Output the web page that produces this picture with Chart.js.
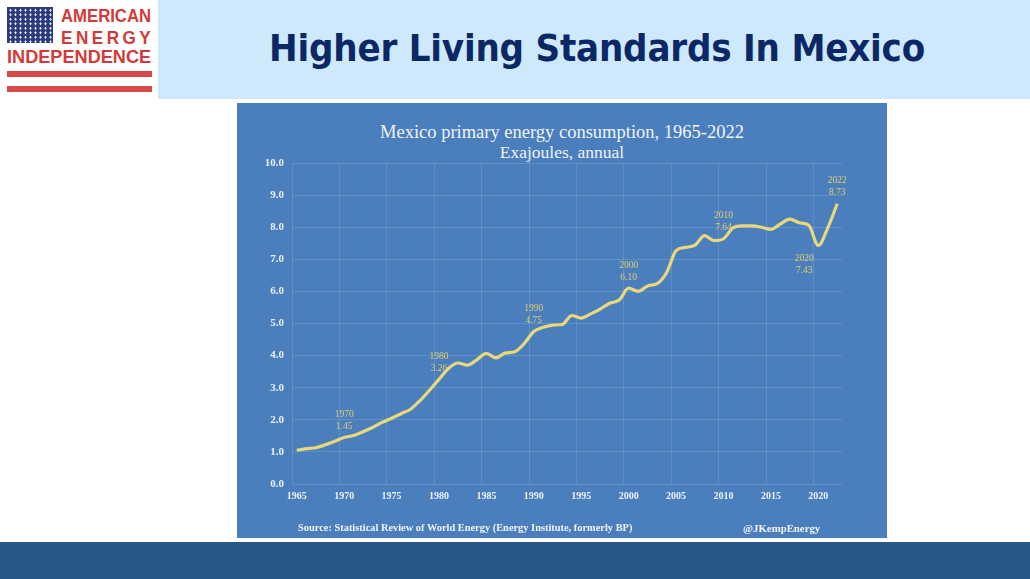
<!DOCTYPE html>
<html>
<head>
<meta charset="utf-8">
<title>Higher Living Standards In Mexico</title>
<script src="https://cdn.jsdelivr.net/npm/chart.js@4.4.0/dist/chart.umd.min.js"></script>
<style>
  html, body { margin: 0; padding: 0; background: #ffffff; }
  body { width: 1030px; height: 579px; position: relative; overflow: hidden; font-family: "DejaVu Sans", sans-serif; }
  #banner { position: absolute; left: 158px; top: 0; width: 872px; height: 99px; background: #cde9fb; }
  #page-title { position: absolute; left: 158px; top: 29px; width: 878px; text-align: center; line-height: 1;
    font-family: "DejaVu Sans Condensed", "DejaVu Sans", sans-serif; font-weight: bold; font-size: 38px; color: #0b2766; letter-spacing: -0.2px; }
  #logo { position: absolute; left: 7px; top: 7px; width: 146px; height: 88px; }
  #flag { position: absolute; left: 0; top: 0; width: 46px; height: 36px; background: #2c3b7c;
    background-image: radial-gradient(circle, #e8ecf6 0.9px, transparent 1.3px); background-size: 5px 4.5px; background-position: 1px 1px; }
  .logo-txt { position: absolute; color: #d23a3a; font-family: "Liberation Sans", Arial, sans-serif; font-weight: bold;
    white-space: nowrap; line-height: 1; font-size: 19px; transform-origin: left top; }
  .stripe { position: absolute; left: 0; width: 145px; height: 6px; background: #d8494a; }
  #panel { position: absolute; left: 237px; top: 103px; width: 650px; height: 435px; background: #4a7ebd; }
  #chart-wrap { position: absolute; left: 0; top: 0; width: 650px; height: 435px; }
  .ptxt { position: absolute; color: #f1f3f7; font-family: "Liberation Serif", "DejaVu Serif", serif; white-space: nowrap; line-height: 1; }
  #footer-bar { position: absolute; left: 0; top: 542px; width: 1030px; height: 37px; background: #295786; }
</style>
</head>
<body>
<div id="banner"></div>
<div id="page-title">Higher Living Standards In Mexico</div>

<div id="logo">
  <div id="flag"></div>
  <div class="logo-txt" style="left:54px; top:-1px; transform: scaleX(0.88);">AMERICAN</div>
  <div class="logo-txt" style="left:54px; top:21px; letter-spacing:3.9px; transform: scaleX(0.9);">ENERGY</div>
  <div class="logo-txt" style="left:0px; top:40px; transform: scaleX(0.955);">INDEPENDENCE</div>
  <div class="stripe" style="top:64px;"></div>
  <div class="stripe" style="top:79px;"></div>
</div>

<div id="panel">
  <div class="ptxt" style="left:0; width:650px; text-align:center; top:20px; font-size:18.5px;">Mexico primary energy consumption, 1965-2022</div>
  <div class="ptxt" style="left:0; width:650px; text-align:center; top:41px; font-size:17.5px;">Exajoules, annual</div>
  <div id="chart-wrap"><canvas id="energy-chart"></canvas></div>
  <div class="ptxt" style="left:61px; top:420px; font-size:10.4px; font-weight:bold;">Source: Statistical Review of World Energy (Energy Institute, formerly BP)</div>
  <div class="ptxt" style="left:506px; top:420px; font-size:10.8px; font-weight:bold;">@JKempEnergy</div>
</div>

<div id="footer-bar"></div>

<script>
// Data (exajoules)
const years = [
  1965, 1966, 1967, 1968, 1969, 1970, 1971, 1972, 1973, 1974,
  1975, 1976, 1977, 1978, 1979, 1980, 1981, 1982, 1983, 1984,
  1985, 1986, 1987, 1988, 1989, 1990, 1991, 1992, 1993, 1994,
  1995, 1996, 1997, 1998, 1999, 2000, 2001, 2002, 2003, 2004,
  2005, 2006, 2007, 2008, 2009, 2010, 2011, 2012, 2013, 2014,
  2015, 2016, 2017, 2018, 2019, 2020, 2021, 2022
];
const consumption = [
  1.05, 1.10, 1.13, 1.22, 1.33, 1.45, 1.51, 1.63, 1.76, 1.92,
  2.05, 2.19, 2.33, 2.60, 2.92, 3.26, 3.60, 3.77, 3.70, 3.87,
  4.07, 3.93, 4.08, 4.12, 4.38, 4.75, 4.88, 4.95, 4.97, 5.25,
  5.17, 5.30, 5.45, 5.63, 5.73, 6.10, 6.00, 6.17, 6.24, 6.58,
  7.27, 7.37, 7.44, 7.74, 7.58, 7.64, 7.98, 8.04, 8.04, 8.00,
  7.93, 8.10, 8.25, 8.14, 8.06, 7.43, 7.98, 8.73
];

// Annotated points
const labelYears = [1970, 1980, 1990, 2000, 2010, 2020, 2022];
const labelValues = [1.45, 3.26, 4.75, 6.10, 7.64, 7.43, 8.73];
const labelBelow = [false, false, false, false, false, true, false];

// Axis ticks: labels every 5 years, gridlines on the year boundaries
const xTickYears = [1965, 1970, 1975, 1980, 1985, 1990, 1995, 2000, 2005, 2010, 2015, 2020];
const xGridYears = [1964.5, 1969.5, 1974.5, 1979.5, 1984.5, 1989.5, 1994.5, 1999.5, 2004.5, 2009.5, 2014.5, 2019.5];
const yTicks = [0, 1, 2, 3, 4, 5, 6, 7, 8, 9, 10];
const xMin = 1964.5;
const xMax = 2022.5;

const lineColor = "#ead87c";
const labelColor = "#e2cd6c";
const tickColor = "#edf1f7";
const gridColor = "rgba(255, 255, 255, 0.13)";
const tickFont = { family: "'Liberation Serif', serif", weight: "bold" };

// Draws the year/value annotations next to the line
const pointLabels = {
  id: "pointLabels",
  afterDatasetsDraw(chart) {
    const { ctx, scales } = chart;
    ctx.save();
    ctx.fillStyle = labelColor;
    ctx.font = "9.5px 'Liberation Serif', serif";
    ctx.textAlign = "center";
    ctx.textBaseline = "middle";
    labelYears.forEach((yr, i) => {
      const px = scales.x.getPixelForValue(yr);
      const py = scales.y.getPixelForValue(labelValues[i]);
      if (labelBelow[i]) {
        ctx.fillText(String(yr), px - 14, py + 13);
        ctx.fillText(labelValues[i].toFixed(2), px - 14, py + 25);
      } else {
        ctx.fillText(String(yr), px, py - 23);
        ctx.fillText(labelValues[i].toFixed(2), px, py - 11);
      }
    });
    ctx.restore();
  },
};

const ctx = document.getElementById("energy-chart").getContext("2d");

const chart = new Chart(ctx, {
  type: "line",
  data: {
    datasets: [
      {
        label: "Mexico primary energy consumption",
        data: years.map((yr, i) => ({ x: yr, y: consumption[i] })),
        borderColor: lineColor,
        borderWidth: 3.2,
        pointRadius: 0,
        tension: 0.4,
        cubicInterpolationMode: "monotone",
        fill: false,
        xAxisID: "x",
      },
    ],
  },
  options: {
    responsive: true,
    maintainAspectRatio: false,
    animation: false,
    layout: {
      padding: { left: 0, right: 45, top: 60, bottom: 34 },
    },
    scales: {
      x: {
        type: "linear",
        position: "bottom",
        min: xMin,
        max: xMax,
        afterFit: (scale) => { scale.height = 20; },
        afterBuildTicks: (scale) => { scale.ticks = xTickYears.map((v) => ({ value: v })); },
        border: { display: false },
        grid: { display: false, drawTicks: false },
        ticks: {
          color: tickColor,
          padding: 6,
          maxRotation: 0,
          autoSkip: false,
          font: { ...tickFont, size: 10 },
          callback: (v) => String(v),
        },
      },
      xGrid: {
        type: "linear",
        position: "top",
        min: xMin,
        max: xMax,
        afterFit: (scale) => { scale.height = 0; },
        afterBuildTicks: (scale) => { scale.ticks = xGridYears.map((v) => ({ value: v })); },
        border: { display: false },
        grid: { color: gridColor, drawTicks: false },
        ticks: { display: false },
      },
      y: {
        min: 0,
        max: 10,
        afterFit: (scale) => { scale.width = 55; },
        afterBuildTicks: (scale) => { scale.ticks = yTicks.map((v) => ({ value: v })); },
        border: { display: false },
        grid: { color: gridColor, drawTicks: false },
        ticks: {
          color: tickColor,
          padding: 8,
          font: { ...tickFont, size: 11 },
          callback: (v) => Number(v).toFixed(1),
        },
      },
    },
    plugins: {
      legend: { display: false },
      tooltip: { enabled: false },
    },
  },
  plugins: [pointLabels],
});
</script>
</body>
</html>
